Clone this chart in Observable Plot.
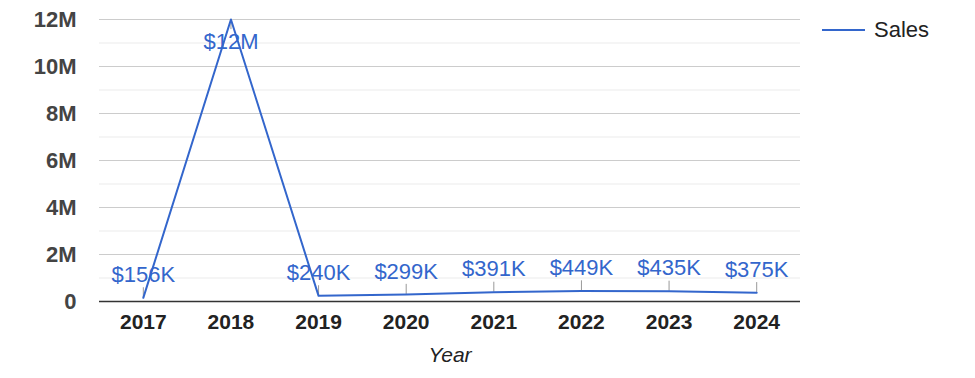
<!DOCTYPE html>
<html>
<head>
<meta charset="utf-8">
<script src="https://cdn.jsdelivr.net/npm/d3@7"></script>
<script src="https://cdn.jsdelivr.net/npm/@observablehq/plot@0.6"></script>
<style>
  html, body { margin: 0; padding: 0; background: #fff; }
  #wrap { position: relative; width: 975px; height: 378px; font-family: "Liberation Sans", Arial, sans-serif; }
  #legend { position: absolute; left: 822px; top: 17px; display: flex; align-items: center; font-size: 22px; color: #222; line-height: 26px; }
  #legend .sw { width: 43px; height: 2px; background: #3366cc; margin-right: 9px; }
</style>
</head>
<body>
<div id="wrap">
  <div id="chart"></div>
  <div id="legend"><span class="sw"></span><span>Sales</span></div>
</div>
<script>
const years = ["2017", "2018", "2019", "2020", "2021", "2022", "2023", "2024"];
const sales = [156000, 12000000, 240000, 299000, 391000, 449000, 435000, 375000];
const salesLabels = ["$156K", "$12M", "$240K", "$299K", "$391K", "$449K", "$435K", "$375K"];
const yMajorTicks = [0, 2e6, 4e6, 6e6, 8e6, 10e6, 12e6];
const yMinorTicks = [1e6, 3e6, 5e6, 7e6, 9e6, 11e6];
const yTickLabels = ["0", "2M", "4M", "6M", "8M", "10M", "12M"];

const data = years.map((y, i) => ({year: y, sales: sales[i], label: salesLabels[i]}));
const above = data.filter(d => d.sales < 11e6);
const below = data.filter(d => d.sales >= 11e6);
const stemLen = 0.43e6;

const chart = Plot.plot({
  width: 975,
  height: 378,
  marginLeft: 99,
  marginRight: 175,
  marginTop: 19,
  marginBottom: 77,
  style: {fontFamily: "'Liberation Sans', Arial, sans-serif", background: "#fff"},
  x: {type: "point", domain: years, padding: 0.5, round: false, label: null},
  y: {domain: [0, 12e6], label: null},
  marks: [
    Plot.ruleY(yMinorTicks, {stroke: "#ebebeb", strokeWidth: 1}),
    Plot.ruleY(yMajorTicks.filter(d => d > 0), {stroke: "#cccccc", strokeWidth: 1}),
    Plot.axisY({
      ticks: yMajorTicks,
      tickFormat: (d) => yTickLabels[yMajorTicks.indexOf(d)],
      tickSize: 0,
      tickPadding: 23,
      fontSize: 22,
      fontWeight: "bold",
      fill: "#444",
      label: null
    }),
    Plot.axisX({
      tickSize: 0,
      tickPadding: 13,
      fontSize: 21,
      fontWeight: "bold",
      fill: "#222",
      label: null
    }),
    Plot.text(["Year"], {
      frameAnchor: "bottom",
      dy: 60,
      text: d => d,
      fontSize: 21,
      fontStyle: "italic",
      fill: "#222"
    }),
    Plot.ruleY([0], {stroke: "#333", strokeWidth: 1.5}),
    Plot.ruleX(above, {x: "year", y1: "sales", y2: d => d.sales + stemLen, stroke: "#999", strokeWidth: 1}),
    Plot.ruleX(below, {x: "year", y1: "sales", y2: d => d.sales - stemLen, stroke: "#999", strokeWidth: 1}),
    Plot.line(data, {x: "year", y: "sales", stroke: "#3366cc", strokeWidth: 2}),
    Plot.text(above, {x: "year", y: "sales", text: "label", dy: -23, fontSize: 22, fill: "#3366cc"}),
    Plot.text(below, {x: "year", y: "sales", text: "label", dy: 22, fontSize: 22, fill: "#3366cc"})
  ]
});
document.getElementById("chart").appendChild(chart);
</script>
</body>
</html>
